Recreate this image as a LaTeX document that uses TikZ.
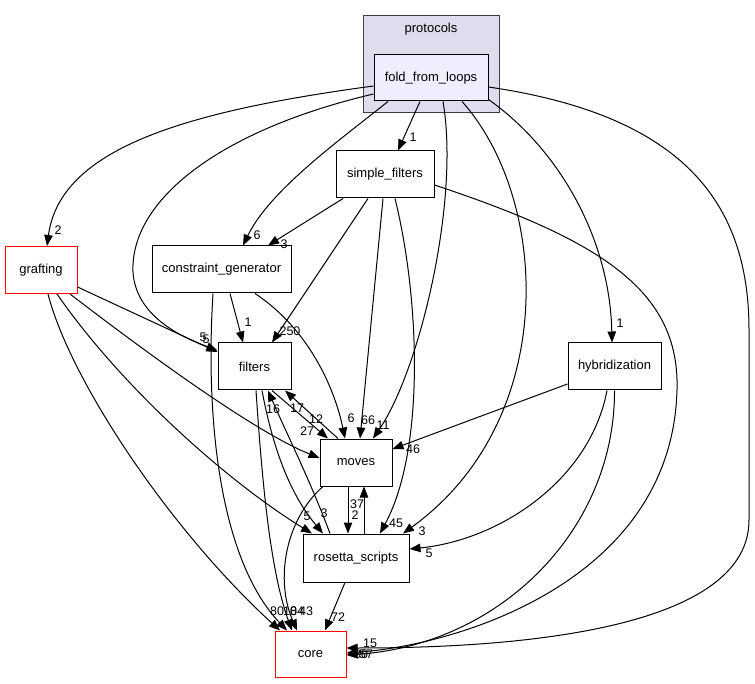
\documentclass[tikz,border=0pt]{standalone}
\usepackage{fontspec}
\setmainfont{Liberation Sans}
\usetikzlibrary{arrows.meta}
\begin{document}
\begin{tikzpicture}[x=1pt,y=-1pt,
  box/.style={draw=black, line width=1pt, fill=white, inner sep=0pt, font=\fontsize{13}{15}\selectfont},
  redbox/.style={box, draw=red},
  clusterbox/.style={draw=black!75, line width=1pt, fill=clusterfill, inner sep=0pt},
  edge/.style={line width=1pt, -{Triangle[length=11pt,width=8.5pt]}},
  lbl/.style={inner sep=0pt, font=\fontsize{12.5}{14}\selectfont},
]
\definecolor{clusterfill}{HTML}{DDDDEE}
\definecolor{nodefill}{HTML}{EEEEFF}
\useasboundingbox (0,0) rectangle (755,684);
\fill[white] (0,0) rectangle (755,684);

% cluster
\node[clusterbox, minimum width=136pt, minimum height=97pt] (cl) at (431,64.5) {};
\node[lbl, font=\fontsize{13}{15}\selectfont] (cltitle) at (431,29) {protocols};

% nodes
\node[box, fill=nodefill, minimum width=114pt, minimum height=46pt] (fold) at (431,78) {fold\_from\_loops};
\node[box, minimum width=98pt, minimum height=47pt] (sf) at (385,174.5) {simple\_filters};
\node[box, minimum width=139pt, minimum height=47pt] (cg) at (221.5,269.5) {constraint\_generator};
\node[redbox, minimum width=72pt, minimum height=47pt] (gr) at (41,270) {grafting};
\node[box, minimum width=73pt, minimum height=47pt] (fi) at (254.5,366.5) {filters};
\node[box, minimum width=93pt, minimum height=47pt] (hy) at (614.5,366.5) {hybridization};
\node[box, minimum width=72pt, minimum height=47pt] (mo) at (356,462.5) {moves};
\node[box, minimum width=106pt, minimum height=48pt] (rs) at (356,558) {rosetta\_scripts};
\node[redbox, minimum width=71pt, minimum height=46pt] (co) at (310.5,654) {core};

% edges from fold_from_loops
\draw[edge] ([yshift=-8pt]fold.west) .. controls (180,112) and (60,150) .. ([xshift=6pt]gr.north);
\draw[edge] ([yshift=-16pt]fold.west) .. controls (220,130) and (130,200) .. (133,272) .. controls (136,320) and (190,340) .. ([yshift=16pt]fi.west);
\draw[edge] ([xshift=-43pt]fold.south) .. controls (340,140) and (270,190) .. ([xshift=21.5pt]cg.north);
\draw[edge] ([xshift=-11pt]fold.south) -- ([xshift=13pt]sf.north);
\draw[edge] ([xshift=12pt]fold.south) .. controls (460,200) and (420,370) .. ([xshift=17pt]mo.north);
\draw[edge] ([xshift=31pt]fold.south) .. controls (550,200) and (560,420) .. ([xshift=47pt]rs.north);
\draw[edge] ([yshift=2pt]fold.south east) .. controls (560,150) and (610,240) .. ([xshift=-2.5pt]hy.north);
\draw[edge] ([yshift=-9pt]fold.east) .. controls (680,115) and (749,200) .. (749,330) -- (749,520) .. controls (749,640) and (470,648) .. ([yshift=6pt]co.east);

% simple_filters
\draw[edge] ([xshift=-42pt]sf.south) -- ([xshift=46.5pt]cg.north);
\draw[edge] ([xshift=-17pt]sf.south) -- ([xshift=17.5pt]fi.north);
\draw[edge] ([xshift=-2pt]sf.south) -- ([xshift=4pt]mo.north);
\draw[edge] ([xshift=10pt]sf.south) .. controls (420,300) and (425,450) .. ([xshift=24pt]rs.north);
\draw[edge] ([yshift=-10.5pt]sf.east) .. controls (600,240) and (680,290) .. (677,390) .. controls (672,580) and (460,645) .. ([yshift=1pt]co.east);

% constraint_generator
\draw[edge] ([xshift=8.5pt]cg.south) -- ([xshift=-11.5pt]fi.north);
\draw[edge] ([xshift=33.5pt]cg.south) .. controls (310,330) and (335,390) .. ([xshift=-11pt]mo.north);
\draw[edge] ([xshift=-8.5pt]cg.south) .. controls (205,420) and (220,560) .. ([xshift=-23.5pt]co.north);

% grafting
\draw[edge] ([yshift=-17pt]gr.east) -- ([yshift=14.5pt]fi.west);
\draw[edge] ([xshift=29pt]gr.south) .. controls (130,340) and (250,430) .. ([yshift=4.5pt]mo.west);
\draw[edge] ([xshift=16pt]gr.south) .. controls (120,385) and (225,480) .. ([xshift=-44pt]rs.north);
\draw[edge] ([xshift=7pt]gr.south) .. controls (70,380) and (170,530) .. ([xshift=-30.5pt]co.north);

% filters / moves / rosetta
\draw[edge] ([xshift=17.5pt]fi.south) -- ([xshift=-28pt]mo.north);
\draw[edge] ([xshift=-18pt]mo.north) -- ([xshift=30.5pt]fi.south);
\draw[edge] ([xshift=-26pt]rs.north) .. controls (310,480) and (285,430) .. ([xshift=13.5pt]fi.south);
\draw[edge] ([xshift=7.5pt]fi.south) .. controls (275,460) and (295,500) .. ([xshift=-33pt]rs.north);
\draw[edge] ([xshift=1.5pt]fi.south) .. controls (262,480) and (270,570) .. ([xshift=-18.5pt]co.north);
\draw[edge] ([xshift=-8pt]mo.south) -- ([xshift=-8pt]rs.north);
\draw[edge] ([xshift=8pt]rs.north) -- ([xshift=8pt]mo.south);
\draw[edge] ([xshift=-33pt]mo.south) .. controls (285,520) and (275,580) .. ([xshift=-13.5pt]co.north);

% hybridization
\draw[edge] ([yshift=-17.5pt]hy.west) -- ([yshift=13.5pt]mo.east);
\draw[edge] ([xshift=-7.5pt]hy.south) .. controls (590,480) and (500,540) .. ([yshift=9pt]rs.east);
\draw[edge] (hy.south) .. controls (615,530) and (500,645) .. ([yshift=-1pt]co.east);

% rosetta -> core
\draw[edge] ([xshift=-11pt]rs.south) -- ([xshift=14.5pt]co.north);

% labels
\node[lbl] (l1) at (58,230) {2};
\node[lbl] (l2) at (203,337) {5};
\node[lbl] (l3) at (206,339) {5};
\node[lbl] (l4) at (257,235) {6};
\node[lbl] (l5) at (284,244) {3};
\node[lbl] (l6) at (413,137) {1};
\node[lbl] (l7) at (620,323) {1};
\node[lbl] (l8) at (383,425) {11};
\node[lbl] (l9) at (422,531) {3};
\node[lbl] (l10) at (290,331) {250};
\node[lbl] (l11) at (368,420) {66};
\node[lbl] (l12) at (396,523) {45};
\node[lbl] (l13) at (248,322) {1};
\node[lbl] (l14) at (351,418) {6};
\node[lbl] (l15) at (307,431) {27};
\node[lbl] (l16) at (307,516) {5};
\node[lbl] (l17) at (277,611) {80};
\node[lbl] (l18) at (316,419) {12};
\node[lbl] (l19) at (297,408) {17};
\node[lbl] (l20) at (273,409) {16};
\node[lbl] (l21) at (324,513) {3};
\node[lbl] (l22) at (290,611) {10};
\node[lbl] (l23) at (297,611) {84};
\node[lbl] (l24) at (306,611) {43};
\node[lbl] (l25) at (357,504) {37};
\node[lbl] (l26) at (355,515) {2};
\node[lbl] (l27) at (413,449) {46};
\node[lbl] (l28) at (429,553) {5};
\node[lbl] (l29) at (338,617) {72};
\node[lbl] (l30) at (370,643) {15};
\node[lbl] (l31) at (366,654) {57};
\node[lbl] (l32) at (361,654) {30};
\end{tikzpicture}
\end{document}
